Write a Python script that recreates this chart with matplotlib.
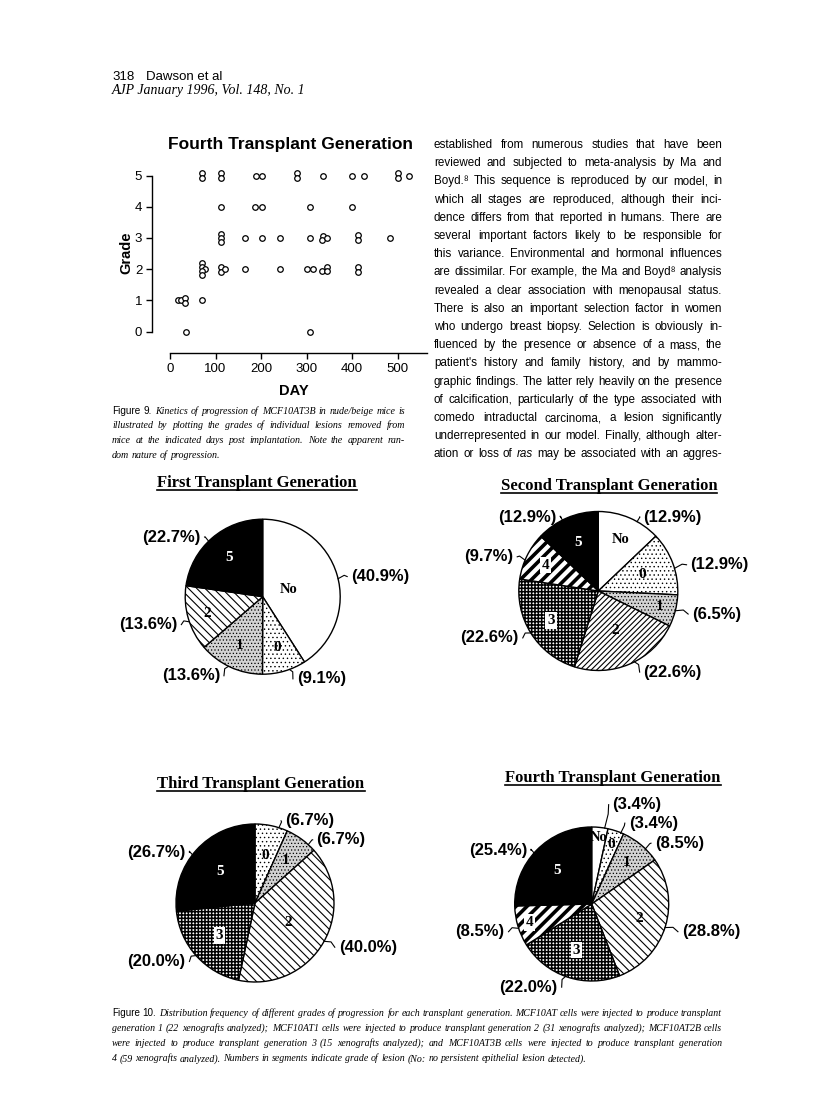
import math
import matplotlib
matplotlib.use("Agg")
import matplotlib.pyplot as plt
from matplotlib.lines import Line2D

# ====================== DATA ======================
# Figure 9: day of removal (x) and grade of lesion (y) for each xenograft
scatter_day = [35, 307,
               18, 25, 34, 34, 70,
               70, 70, 76, 70, 70, 113, 113, 120, 165, 242, 302, 315, 335, 344, 345, 414, 414,
               113, 113, 113, 165, 202, 242, 307, 336, 335, 345, 414, 414, 484,
               113, 187, 203, 307, 400,
               70, 70, 113, 113, 189, 203, 280, 280, 336, 400, 427, 502, 502, 525]
scatter_grade = [0, 0,
                 1, 1, 1, 1, 1,
                 2, 2, 2, 2, 2, 2, 2, 2, 2, 2, 2, 2, 2, 2, 2, 2, 2,
                 3, 3, 3, 3, 3, 3, 3, 3, 3, 3, 3, 3, 3,
                 4, 4, 4, 4, 4,
                 5, 5, 5, 5, 5, 5, 5, 5, 5, 5, 5, 5, 5, 5]
x_ticks = [0, 100, 200, 300, 400, 500]
y_ticks = [0, 1, 2, 3, 4, 5]

# Figure 10: distribution of grades per transplant generation (percent)
pie_titles = ["First Transplant Generation", "Second Transplant Generation",
              "Third Transplant Generation", "Fourth Transplant Generation"]
gen1_grades = ["No", "0", "1", "2", "5"]
gen1_pct = [40.9, 9.1, 13.6, 13.6, 22.7]
gen2_grades = ["No", "0", "1", "2", "3", "4", "5"]
gen2_pct = [12.9, 12.9, 6.5, 22.6, 22.6, 9.7, 12.9]
gen3_grades = ["0", "1", "2", "3", "5"]
gen3_pct = [6.7, 6.7, 40.0, 20.0, 26.7]
gen4_grades = ["No", "0", "1", "2", "3", "4", "5"]
gen4_pct = [3.4, 3.4, 8.5, 28.8, 22.0, 8.5, 25.4]

# Page texts
header_1 = "318"
header_2 = "Dawson et al"
header_3 = "AJP January 1996, Vol. 148, No. 1"
scatter_title = "Fourth Transplant Generation"
body_lines = [
    "established from numerous studies that have been",
    "reviewed and subjected to meta-analysis by Ma and",
    "Boyd.\u2078 This sequence is reproduced by our model, in",
    "which all stages are reproduced, although their inci-",
    "dence differs from that reported in humans. There are",
    "several important factors likely to be responsible for",
    "this variance. Environmental and hormonal influences",
    "are dissimilar. For example, the Ma and Boyd\u2078 analysis",
    "revealed a clear association with menopausal status.",
    "There is also an important selection factor in women",
    "who undergo breast biopsy. Selection is obviously in-",
    "fluenced by the presence or absence of a mass, the",
    "patient's history and family history, and by mammo-",
    "graphic findings. The latter rely heavily on the presence",
    "of calcification, particularly of the type associated with",
    "comedo intraductal carcinoma, a lesion significantly",
    "underrepresented in our model. Finally, although alter-",
    "ation or loss of *ras* may be associated with an aggres-",
]
fig9_lines = [
    "Figure 9. Kinetics of progression of MCF10AT3B in nude/beige mice is",
    "illustrated by plotting the grades of individual lesions removed from",
    "mice at the indicated days post implantation. Note the apparent ran-",
    "dom nature of progression.",
]
fig10_lines = [
    "Figure 10. Distribution frequency of different grades of progression for each transplant generation. MCF10AT cells were injected to produce transplant",
    "generation 1 (22 xenografts analyzed); MCF10AT1 cells were injected to produce transplant generation 2 (31 xenografts analyzed); MCF10AT2B cells",
    "were injected to produce transplant generation 3 (15 xenografts analyzed); and MCF10AT3B cells were injected to produce transplant generation",
    "4 (59 xenografts analyzed). Numbers in segments indicate grade of lesion (No: no persistent epithelial lesion detected).",
]

# ====================== STYLE / LAYOUT ======================
stack_offset = [0, 0,
                0, 0, 0.08, -0.08, 0,
                0.2, 0.07, 0, -0.07, -0.2, 0.08, -0.08, 0, 0, 0, 0, 0, -0.05, 0.08, -0.07, 0.08, -0.08,
                0.13, 0, -0.13, 0, 0, 0, 0, 0.07, -0.07, 0, 0.08, -0.08, 0,
                0, 0, 0, 0, 0,
                0.08, -0.08, 0.08, -0.08, 0, 0, 0.08, -0.08, 0, 0, 0, 0.08, -0.08, 0]

W, H = 816, 1115
fig = plt.figure(figsize=(W / 100, H / 100), dpi=100)
fig.patch.set_facecolor("white")
renderer = fig.canvas.get_renderer()

SANS = ["Liberation Sans", "DejaVu Sans"]
SERIF = ["Liberation Serif", "DejaVu Serif"]


def fx(x):
    return x / W


def fy(y):
    return 1.0 - y / H


def text_width(s, **kw):
    t = fig.text(0, 0, s, **kw)
    w = t.get_window_extent(renderer).width
    t.remove()
    return w


def tokenize(line, props, alt_props=None, n_alt=0):
    toks = []
    for i, w in enumerate(line.split(" ")):
        p = dict(alt_props) if (alt_props is not None and i < n_alt) else dict(props)
        if w.startswith("*") and w.endswith("*"):
            w = w.strip("*")
            p["style"] = "italic"
        toks.append((w, p))
    return toks


def nosize(p):
    return {k: v for k, v in p.items() if k != "size"}


def draw_block(lines, x0, x1, y_first, dy, props, alt_props=None, n_alt=0,
               justify_last=True, fill=0.99):
    # fit the font size so that the widest line fits the column
    test = 10.0
    base = nosize(props)
    maxnat = 0
    for li, line in enumerate(lines):
        toks = tokenize(line, props, alt_props, n_alt if li == 0 else 0)
        ws = [text_width(w, size=test, **nosize(p)) for w, p in toks]
        sp = text_width("a a", size=test, **base) - text_width("aa", size=test, **base)
        nat = sum(ws) + sp * (len(ws) - 1)
        maxnat = max(maxnat, nat)
    size = test * (x1 - x0) * fill / maxnat
    spx = size * 100 / 72
    sp = text_width("a a", size=size, **base) - text_width("aa", size=size, **base)
    for li, line in enumerate(lines):
        toks = tokenize(line, props, alt_props, n_alt if li == 0 else 0)
        kws = [nosize(p) for w, p in toks]
        ws = [text_width(w, size=size, **kw) for (w, p), kw in zip(toks, kws)]
        last = (li == len(lines) - 1)
        if (not last or justify_last) and len(ws) > 1:
            gap = (x1 - x0 - sum(ws)) / (len(ws) - 1)
        else:
            gap = sp
        x = x0
        yb = y_first + li * dy + 0.26 * spx
        for (w, p), kw, wd in zip(toks, kws, ws):
            fig.text(fx(x), fy(yb), w, ha="left", va="baseline", size=size, **kw)
            x += wd + gap
    return size


# ---------------- header ----------------
fig.text(fx(112), fy(80), header_1, family=SANS, size=9.5, va="baseline")
fig.text(fx(146), fy(80), header_2, family=SANS, size=9.5, va="baseline")
fig.text(fx(112), fy(94), header_3, family=SERIF, style="italic", size=10, va="baseline")

# ---------------- Figure 9 scatter ----------------
X_LEFT_PX, X_RIGHT_PX = 152, 432
Y_TOP_PX, Y_BOT_PX = 168, 353
PX_PER_DAY = (397.5 - 170.0) / 500.0
PX_PER_GRADE = (331.5 - 175.5) / 5.0
x0_day = -(170.0 - X_LEFT_PX) / PX_PER_DAY
x1_day = (X_RIGHT_PX - 170.0) / PX_PER_DAY
y0_gr = -(Y_BOT_PX - 331.5) / PX_PER_GRADE
y1_gr = (331.5 - Y_TOP_PX) / PX_PER_GRADE

ax = fig.add_axes([fx(X_LEFT_PX), fy(Y_BOT_PX), (X_RIGHT_PX - X_LEFT_PX) / W, (Y_BOT_PX - Y_TOP_PX) / H])
ypos = [g + o for g, o in zip(scatter_grade, stack_offset)]
ax.plot(scatter_day, ypos, linestyle="none", marker="o", ms=4.0, mfc="white",
        mec="black", mew=0.9, clip_on=False)
ax.set_xlim(x0_day, x1_day)
ax.set_ylim(y0_gr, y1_gr)
for s in ["top", "right"]:
    ax.spines[s].set_visible(False)
ax.spines["left"].set_bounds(0, 5)
ax.spines["bottom"].set_bounds(0, 565)
ax.spines["left"].set_linewidth(1.0)
ax.spines["bottom"].set_linewidth(1.0)
ax.set_xticks(x_ticks)
ax.set_yticks(y_ticks)
ax.tick_params(direction="out", length=4, width=1.0, labelsize=9.5, pad=3)
for lab in ax.get_xticklabels() + ax.get_yticklabels():
    lab.set_family(SANS)
fig.text(fx(291), fy(145), scatter_title, family=SANS, weight="bold", size=12.5,
         ha="center", va="center")
fig.text(fx(126), fy(253), "Grade", family=SANS, weight="bold", size=10.5,
         rotation=90, ha="center", va="center")
fig.text(fx(294), fy(391), "DAY", family=SANS, weight="bold", size=10.5,
         ha="center", va="center")

# ---------------- Figure 9 caption ----------------
draw_block(fig9_lines, 112, 405, 411, 14.8,
           dict(family=SERIF, style="italic", size=8),
           alt_props=dict(family=SANS, style="normal", size=8), n_alt=2,
           justify_last=False)

# ---------------- right column text ----------------
draw_block(body_lines, 434, 722, 145, 18.2, dict(family=SANS, size=9.5))

# ---------------- Figure 10 pies ----------------
FILL = {"No": "white", "0": "white", "1": "#d2d2d2", "2": "white",
        "3": "white", "4": "white", "5": "black"}
HATCH = {"No": None, "0": "....", "1": ".....", "2": "\\\\\\\\", "3": "+++++",
         "4": "///", "5": None}
HATCH_LW = {"No": 1.0, "0": 0.5, "1": 0.5, "2": 0.8, "3": 1.1, "4": 2.6, "5": 1.0}

pie_layout = [
    dict(title_xy=(257, 482), c=(262.7, 596.7), r=77.5,
         inside=[0.35, 0.68, 0.70, 0.75, 0.67],
         anchors=[(1.14, 0.26, "left"), (0.44, -1.06, "left"), (-0.55, -1.02, "right"),
                  (-1.10, -0.36, "right"), (-0.80, 0.77, "right")],
         hatch2="\\\\\\\\"),
    dict(title_xy=(609, 485), c=(598.3, 591.0), r=79.5,
         inside=[0.70, 0.59, 0.79, 0.54, 0.70, 0.74, 0.66],
         anchors=[(0.57, 0.93, "left"), (1.16, 0.33, "left"), (1.18, -0.29, "left"),
                  (0.57, -1.02, "left"), (-1.00, -0.59, "right"), (-1.07, 0.43, "right"),
                  (-0.52, 0.93, "right")],
         hatch2="//////"),
    dict(title_xy=(261, 783), c=(255.0, 903.0), r=79.0,
         inside=[0.61, 0.66, 0.49, 0.61, 0.60],
         anchors=[(0.38, 1.04, "left"), (0.78, 0.80, "left"), (1.06, -0.56, "left"),
                  (-0.88, -0.74, "right"), (-0.88, 0.64, "right")],
         hatch2="\\\\\\\\"),
    dict(title_xy=(613, 777), c=(591.7, 904.0), r=77.0,
         inside=[0.87, 0.82, 0.70, 0.64, 0.63, 0.84, 0.63],
         anchors=[(0.27, 1.29, "left"), (0.48, 1.05, "left"), (0.82, 0.79, "left"),
                  (1.17, -0.36, "left"), (-0.44, -1.08, "right"), (-1.13, -0.36, "right"),
                  (-0.84, 0.70, "right")],
         hatch2="\\\\\\\\"),
]
pie_data = [(gen1_grades, gen1_pct), (gen2_grades, gen2_pct),
            (gen3_grades, gen3_pct), (gen4_grades, gen4_pct)]


def underlined_title(xc, y, s):
    size = 12
    spx = size * 100 / 72
    yb = y + 0.3 * spx
    t = fig.text(fx(xc), fy(yb), s, ha="center", va="baseline", family=SERIF,
                 weight="bold", size=size)
    bb = t.get_window_extent(renderer)
    yl = (H - yb) - 2.5
    fig.add_artist(Line2D([bb.x0 / W, bb.x1 / W], [yl / H, yl / H], color="black",
                          lw=1.2, transform=fig.transFigure))


def set_hatch_lw(p, lw):
    if hasattr(p, "set_hatch_linewidth"):
        p.set_hatch_linewidth(lw)
    else:
        p._hatch_linewidth = lw


for title, lay, (grades, pct) in zip(pie_titles, pie_layout, pie_data):
    underlined_title(lay["title_xy"][0], lay["title_xy"][1], title)
    cx, cy = lay["c"]
    r = lay["r"]
    E = 1.06
    R = r * E
    pax = fig.add_axes([fx(cx - R), fy(cy + R), 2 * R / W, 2 * R / H])
    wedges, _ = pax.pie(pct, startangle=90, counterclock=False, radius=1.0,
                        wedgeprops=dict(edgecolor="black", linewidth=1.0))
    pax.set_xlim(-E, E)
    pax.set_ylim(-E, E)
    pax.axis("off")
    for w, g in zip(wedges, grades):
        w.set_facecolor(FILL[g])
        w.set_edgecolor("black")
        h = HATCH[g]
        if g == "2":
            h = lay["hatch2"]
        if h:
            w.set_hatch(h)
        set_hatch_lw(w, HATCH_LW[g])
        w.set_clip_on(False)
    for w, g, ir, (axx, ayy, ha), p in zip(wedges, grades, lay["inside"], lay["anchors"], pct):
        mid = math.radians((w.theta1 + w.theta2) / 2.0)
        tx, ty = ir * math.cos(mid), ir * math.sin(mid)
        col = "white" if g == "5" else "black"
        bbox = None
        if g in ("3", "4"):
            bbox = dict(boxstyle="square,pad=0.12", fc="white", ec="none")
        pax.text(tx, ty, g, ha="center", va="center", family=SERIF, weight="bold",
                 size=11 if g != "No" else 10.5, color=col, bbox=bbox, clip_on=False)
        # percentage label with short leader
        pax.text(axx, ayy, f"({p:.1f}%)", ha=ha, va="center", family=SANS,
                 weight="bold", size=12, clip_on=False)
        ex = axx - 0.05 if ha == "left" else axx + 0.05
        ang = math.atan2(ayy, ex)
        px_, py_ = math.cos(ang), math.sin(ang)
        pax.add_line(Line2D([px_, (px_ + ex) / 2 + 0.02 * (1 if ha == "left" else -1), ex],
                            [py_, (py_ + ayy) / 2 + 0.03, ayy],
                            color="black", lw=0.8, clip_on=False))

# ---------------- Figure 10 caption ----------------
draw_block(fig10_lines, 112, 722, 1013, 15.3,
           dict(family=SERIF, style="italic", size=8),
           alt_props=dict(family=SANS, style="normal", size=8), n_alt=2,
           justify_last=False)

fig.savefig("out.png", dpi=100, facecolor="white")
